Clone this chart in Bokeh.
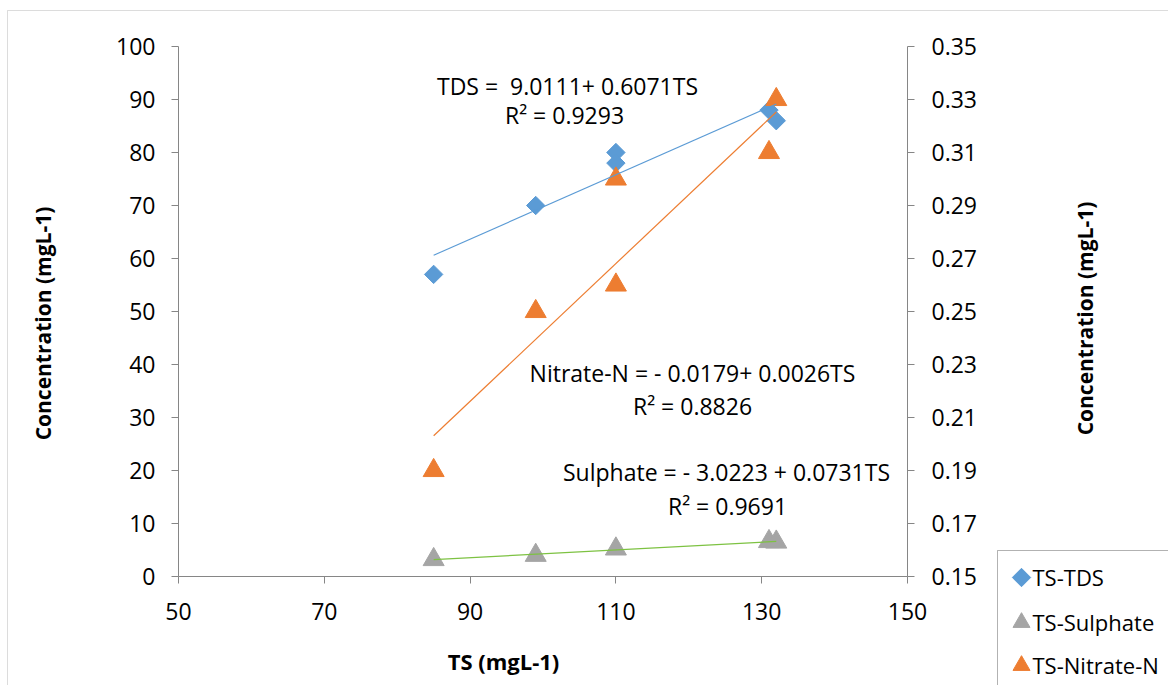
import numpy as np
from bokeh.plotting import figure
from bokeh.models import (Range1d, LinearAxis, FixedTicker, Label,
                          NumeralTickFormatter, BoxAnnotation)
from bokeh.embed import file_html
from bokeh.resources import INLINE

# ---------------- data ----------------
ts_tds = [85, 99, 110, 110, 131, 132]
tds = [57, 70, 80, 78, 88, 86]

ts_sulphate = [85, 99, 110, 131, 132]
sulphate = [3.2, 4.0, 5.2, 6.6, 6.5]

ts_nitrate = [85, 99, 110, 110, 131, 132]
nitrate = [0.19, 0.25, 0.26, 0.30, 0.31, 0.33]

# trend line coefficients (intercept, slope) as printed on the chart
tds_fit = [9.0111, 0.6071]
sulphate_fit = [-3.0223, 0.0731]
nitrate_fit = [-0.0179, 0.0026]

x_ticks = [50, 70, 90, 110, 130, 150]
left_ticks = [0, 10, 20, 30, 40, 50, 60, 70, 80, 90, 100]
right_ticks = [0.15, 0.17, 0.19, 0.21, 0.23, 0.25, 0.27, 0.29, 0.31, 0.33, 0.35]

series_names = ["TS-TDS", "TS-Sulphate", "TS-Nitrate-N"]
tds_eq = ["TDS =\u00a0 9.0111+ 0.6071TS", "R\u00b2 = 0.9293"]
nitrate_eq = ["Nitrate-N = - 0.0179+ 0.0026TS", "R\u00b2 = 0.8826"]
sulphate_eq = ["Sulphate = - 3.0223 + 0.0731TS", "R\u00b2 = 0.9691"]
x_title = "TS (mgL-1)"
y_title = "Concentration (mgL-1)"

# ---------------- layout / styling ----------------
W, H = 1168, 685
PX_L, PX_R, PX_T, PX_B = 178, 907, 46, 576   # pixel box of the axes area
X0, X1 = 50, 150
YL0, YL1 = 0, 100
YR0, YR1 = 0.15, 0.35

FONT = "Open Sans"
BLUE = "#5B9BD5"
GRAY = "#A5A5A5"
ORANGE = "#ED7D31"
GREEN = "#7DC242"
AXIS = "#868686"

# the plotting frame covers the whole canvas; axes are pinned in place
xs = (X1 - X0) / (PX_R - PX_L)
ysl = (YL1 - YL0) / (PX_B - PX_T)
ysr = (YR1 - YR0) / (PX_B - PX_T)
x_range = Range1d(X0 - PX_L * xs, X0 + (W - PX_L) * xs)
y_range = Range1d(YL0 - (H - PX_B) * ysl, YL1 + PX_T * ysl)
yr_range = Range1d(YR0 - (H - PX_B) * ysr, YR1 + PX_T * ysr)

def px_x(px):
    return X0 + (px - PX_L) * xs

def px_y(py):
    return YL0 + (PX_B - py) * ysl

p = figure(width=W, height=H, x_range=x_range, y_range=y_range,
           output_backend="svg", toolbar_location=None,
           x_axis_location=None, y_axis_location=None,
           min_border=0)
p.min_border_left = 0
p.min_border_right = 0
p.min_border_top = 0
p.min_border_bottom = 0
p.background_fill_color = "white"
p.border_fill_color = "white"
p.outline_line_color = None
p.grid.visible = False
p.extra_y_ranges = {"right": yr_range}

def style_axis(ax, standoff):
    ax.axis_line_color = AXIS
    ax.major_tick_line_color = AXIS
    ax.minor_tick_line_color = None
    ax.major_tick_in = 0
    ax.major_tick_out = 7
    ax.major_label_text_font = FONT
    ax.major_label_text_font_size = "23px"
    ax.major_label_text_color = "black"
    ax.major_label_standoff = standoff

xaxis = LinearAxis(fixed_location=YL0, bounds=(X0, X1), ticker=FixedTicker(ticks=x_ticks))
yaxis = LinearAxis(fixed_location=X0, bounds=(YL0, YL1), ticker=FixedTicker(ticks=left_ticks))
raxis = LinearAxis(fixed_location=X1, bounds=(YR0, YR1), y_range_name="right",
                   ticker=FixedTicker(ticks=right_ticks),
                   formatter=NumeralTickFormatter(format="0.00"))
style_axis(xaxis, 19)
style_axis(yaxis, 16)
style_axis(raxis, 17)
p.add_layout(xaxis, "below")
p.add_layout(yaxis, "left")
p.add_layout(raxis, "right")

# outer chart border (left and top edges visible)
p.add_layout(BoxAnnotation(left=px_x(7), top=px_y(10), right=px_x(W + 20), bottom=px_y(H + 20),
                           fill_alpha=0, line_color="#8c8c8c", line_width=1))

# ---------------- marks ----------------
p.scatter(ts_tds, tds, marker="square", size=13, angle=np.pi / 4, color=BLUE)
p.scatter(ts_sulphate, sulphate, marker="triangle", size=21, color=GRAY)
p.scatter(ts_nitrate, nitrate, marker="triangle", size=21, color=ORANGE,
          y_range_name="right")

def fit_line(xv, coef):
    xx = np.array([min(xv), max(xv)], dtype=float)
    return xx, coef[0] + coef[1] * xx

fx, fy = fit_line(ts_tds, tds_fit)
p.line(fx, fy, line_color=BLUE, line_width=1.2)
fx, fy = fit_line(ts_sulphate, sulphate_fit)
p.line(fx, fy, line_color=GREEN, line_width=1.2)
fx, fy = fit_line(ts_nitrate, nitrate_fit)
p.line(fx, fy, line_color=ORANGE, line_width=1.2, y_range_name="right")

# ---------------- annotations ----------------
def add_text(pxx, pxy, txt, size="23px", bold=False, angle=0, align="center"):
    p.add_layout(Label(x=px_x(pxx), y=px_y(pxy), text=txt, text_font=FONT,
                       text_font_size=size,
                       text_font_style="bold" if bold else "normal",
                       text_color="black", text_align=align,
                       text_baseline="middle", angle=angle, angle_units="deg"))

add_text(567, 85, tds_eq[0])
add_text(564, 114, tds_eq[1])
add_text(692, 372, nitrate_eq[0])
add_text(692, 405, nitrate_eq[1])
add_text(726, 471, sulphate_eq[0])
add_text(727, 505, sulphate_eq[1])

add_text(503, 660, x_title, size="22px", bold=True)
add_text(42, 323, y_title, size="21px", bold=True, angle=90)
add_text(1084, 318, y_title, size="21px", bold=True, angle=90)

# ---------------- legend (box, symbols, labels) ----------------
p.add_layout(BoxAnnotation(left=px_x(997), top=px_y(550), right=px_x(W + 20),
                           bottom=px_y(H + 20), fill_alpha=0,
                           line_color="black", line_width=1))
leg_rows = [577, 622, 665]
leg_markers = [("square", 13, np.pi / 4, BLUE), ("triangle", 17, 0, GRAY),
               ("triangle", 17, 0, ORANGE)]
for name, row, (mk, sz, ang, col) in zip(series_names, leg_rows, leg_markers):
    p.scatter([px_x(1021)], [px_y(row)], marker=mk, size=sz, angle=ang, color=col)
    add_text(1032, row - 1, name, size="22px", align="left")

open("out.html", "w").write(file_html(p, INLINE))
